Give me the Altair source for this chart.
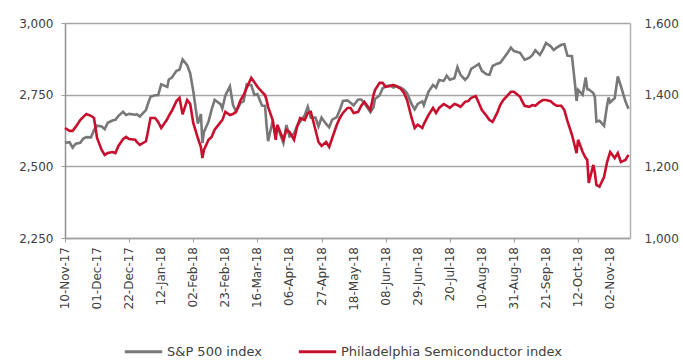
import altair as alt
import pandas as pd

# Trading dates sampled through the year, with closing levels of each index
dates = [
    "2017-11-10", "2017-11-13", "2017-11-15", "2017-11-17", "2017-11-20", "2017-11-22", "2017-11-24",
    "2017-11-27", "2017-11-29", "2017-12-01", "2017-12-04", "2017-12-06", "2017-12-08", "2017-12-11",
    "2017-12-13", "2017-12-15", "2017-12-18", "2017-12-20", "2017-12-22", "2017-12-26", "2017-12-27",
    "2017-12-29", "2018-01-02", "2018-01-03", "2018-01-05", "2018-01-08", "2018-01-10", "2018-01-12",
    "2018-01-16", "2018-01-17", "2018-01-19", "2018-01-22", "2018-01-24", "2018-01-26", "2018-01-29",
    "2018-01-31", "2018-02-02", "2018-02-05", "2018-02-07", "2018-02-08", "2018-02-09", "2018-02-12",
    "2018-02-14", "2018-02-16", "2018-02-20", "2018-02-21", "2018-02-23", "2018-02-26", "2018-02-28",
    "2018-03-02", "2018-03-05", "2018-03-07", "2018-03-09", "2018-03-12", "2018-03-14", "2018-03-16",
    "2018-03-19", "2018-03-21", "2018-03-22", "2018-03-23", "2018-03-26", "2018-03-28", "2018-03-29",
    "2018-04-02", "2018-04-04", "2018-04-06", "2018-04-09", "2018-04-11", "2018-04-13", "2018-04-16",
    "2018-04-18", "2018-04-20", "2018-04-23", "2018-04-25", "2018-04-27", "2018-04-30", "2018-05-02",
    "2018-05-04", "2018-05-07", "2018-05-09", "2018-05-11", "2018-05-14", "2018-05-16", "2018-05-18",
    "2018-05-21", "2018-05-23", "2018-05-25", "2018-05-29", "2018-05-31", "2018-06-01", "2018-06-04",
    "2018-06-06", "2018-06-08", "2018-06-11", "2018-06-13", "2018-06-15", "2018-06-18", "2018-06-20",
    "2018-06-22", "2018-06-25", "2018-06-27", "2018-06-29", "2018-07-02", "2018-07-03", "2018-07-06",
    "2018-07-09", "2018-07-11", "2018-07-13", "2018-07-16", "2018-07-18", "2018-07-20", "2018-07-23",
    "2018-07-25", "2018-07-27", "2018-07-30", "2018-08-01", "2018-08-03", "2018-08-06", "2018-08-08",
    "2018-08-10", "2018-08-13", "2018-08-15", "2018-08-17", "2018-08-20", "2018-08-22", "2018-08-24",
    "2018-08-27", "2018-08-29", "2018-08-31", "2018-09-04", "2018-09-05", "2018-09-07", "2018-09-10",
    "2018-09-12", "2018-09-14", "2018-09-17", "2018-09-19", "2018-09-21", "2018-09-24", "2018-09-26",
    "2018-09-28", "2018-10-01", "2018-10-03", "2018-10-05", "2018-10-08", "2018-10-10", "2018-10-11",
    "2018-10-12", "2018-10-15", "2018-10-17", "2018-10-18", "2018-10-19", "2018-10-22", "2018-10-23",
    "2018-10-24", "2018-10-26", "2018-10-29", "2018-10-31", "2018-11-01", "2018-11-02", "2018-11-05",
    "2018-11-07", "2018-11-09", "2018-11-12", "2018-11-14",
]

spx = [
    2582, 2584, 2565, 2579, 2582, 2597, 2602,
    2601, 2626, 2642, 2639, 2630, 2652, 2660,
    2662, 2676, 2690, 2679, 2683, 2680, 2682,
    2674, 2696, 2713, 2743, 2748, 2748, 2786,
    2777, 2803, 2810, 2833, 2837, 2873, 2853,
    2824, 2762, 2649, 2682, 2581, 2620, 2656,
    2698, 2732, 2716, 2701, 2747, 2779, 2714,
    2691, 2721, 2727, 2786, 2783, 2749, 2752,
    2712, 2711, 2643, 2588, 2658, 2605, 2641,
    2582, 2644, 2604, 2614, 2642, 2656, 2678,
    2708, 2670, 2670, 2639, 2670, 2648, 2636,
    2663, 2672, 2697, 2728, 2730, 2722, 2713,
    2733, 2733, 2721, 2689, 2705, 2735, 2747,
    2772, 2779, 2782, 2775, 2780, 2774, 2767,
    2755, 2717, 2699, 2718, 2727, 2713, 2760,
    2784, 2774, 2801, 2798, 2816, 2802, 2807,
    2846, 2819, 2802, 2813, 2840, 2850, 2857,
    2833, 2821, 2819, 2850, 2858, 2861, 2875,
    2897, 2914, 2902, 2896, 2888, 2872, 2878,
    2888, 2905, 2889, 2907, 2930, 2919, 2906,
    2914, 2924, 2926, 2886, 2884, 2786, 2728,
    2767, 2750, 2810, 2769, 2768, 2756, 2741,
    2656, 2659, 2641, 2712, 2740, 2723, 2738,
    2814, 2781, 2727, 2701,
]

sox = [
    1307, 1299, 1299, 1310, 1329, 1338, 1346,
    1341, 1335, 1279, 1246, 1232, 1237, 1240,
    1237, 1257, 1276, 1282, 1276, 1274, 1268,
    1260, 1270, 1290, 1335, 1335, 1324, 1307,
    1332, 1341, 1355, 1382, 1391, 1345, 1385,
    1374, 1321, 1279, 1254, 1223, 1246, 1274,
    1282, 1302, 1324, 1329, 1352, 1343, 1346,
    1352, 1385, 1399, 1419, 1447, 1435, 1422,
    1408, 1399, 1385, 1366, 1329, 1274, 1316,
    1274, 1302, 1296, 1274, 1310, 1335, 1329,
    1349, 1352, 1302, 1268, 1257, 1268, 1254,
    1279, 1316, 1335, 1349, 1363, 1363, 1349,
    1352, 1369, 1380, 1357, 1399, 1413, 1433,
    1433, 1422, 1424, 1427, 1424, 1416, 1405,
    1385, 1335, 1307, 1316, 1307, 1318, 1343,
    1363, 1349, 1363, 1374, 1369, 1363, 1374,
    1371, 1366, 1380, 1382, 1391, 1396, 1377,
    1357, 1341, 1329, 1324, 1349, 1371, 1385,
    1399, 1408, 1408, 1394, 1385, 1369, 1366,
    1371, 1369, 1380, 1385, 1385, 1382, 1374,
    1369, 1369, 1357, 1327, 1288, 1254, 1237,
    1274, 1240, 1223, 1218, 1154, 1204, 1182,
    1148, 1143, 1170, 1212, 1226, 1240, 1223,
    1237, 1212, 1218, 1232,
]

series_names = ["S&P 500 index", "Philadelphia Semiconductor index"]
series_colors = ["#787878", "#c8102e"]

tick_dates = [
    "2017-11-10", "2017-12-01", "2017-12-22", "2018-01-12", "2018-02-02", "2018-02-23",
    "2018-03-16", "2018-04-06", "2018-04-27", "2018-05-18", "2018-06-08", "2018-06-29",
    "2018-07-20", "2018-08-10", "2018-08-31", "2018-09-21", "2018-10-12", "2018-11-02",
]
tick_labels = [
    "10-Nov-17", "01-Dec-17", "22-Dec-17", "12-Jan-18", "02-Feb-18", "23-Feb-18",
    "16-Mar-18", "06-Apr-18", "27-Apr-18", "18-May-18", "08-Jun-18", "29-Jun-18",
    "20-Jul-18", "10-Aug-18", "31-Aug-18", "21-Sep-18", "12-Oct-18", "02-Nov-18",
]
date_range = ["2017-11-10", "2018-11-15"]
left_ticks = [2250, 2500, 2750, 3000]
right_ticks = [1000, 1200, 1400, 1600]

FONT = "DejaVu Sans"
PLOT_H = 215


def ms(d):
    return int(pd.Timestamp(d, tz="UTC").value // 10**6)


df_spx = pd.DataFrame({"date": dates, "value": spx, "series": series_names[0]})
df_sox = pd.DataFrame({"date": dates, "value": sox, "series": series_names[1]})
df_ticks = pd.DataFrame({"date": tick_dates, "label": tick_labels})

x_scale = alt.Scale(type="utc", domain=[ms(d) for d in date_range])

# Time axis: ticks and baseline only; the date labels are drawn as vertical text
x_enc = alt.X(
    "date:T",
    scale=x_scale,
    axis=alt.Axis(
        values=[ms(d) for d in tick_dates],
        labels=False,
        tickSize=4,
        tickColor="#a0a0a0",
        domainColor="#a0a0a0",
        domainWidth=1.5,
        grid=False,
        title=None,
    ),
)

color_enc = alt.Color(
    "series:N",
    scale=alt.Scale(domain=series_names, range=series_colors),
    legend=alt.Legend(
        title=None,
        orient="none",
        direction="horizontal",
        legendX=58,
        legendY=308,
        symbolType="stroke",
        symbolSize=1400,
        symbolStrokeWidth=3,
        labelFont=FONT,
        labelFontSize=13,
        labelColor="#404040",
        labelOffset=3,
        labelLimit=400,
        columnPadding=30,
    ),
)

spx_line = alt.Chart(df_spx).mark_line(strokeWidth=2.6).encode(
    x=x_enc,
    y=alt.Y(
        "value:Q",
        scale=alt.Scale(domain=[2250, 3000], nice=False, zero=False),
        axis=alt.Axis(
            values=left_ticks,
            format=",.0f",
            orient="left",
            labelPadding=8,
            tickSize=4,
            tickColor="#a0a0a0",
            domainColor="#909090",
            domainWidth=1.5,
            grid=True,
            gridColor="#a6a6a6",
            gridWidth=1.5,
            title=None,
        ),
    ),
    color=color_enc,
)

sox_line = alt.Chart(df_sox).mark_line(strokeWidth=2.6).encode(
    x=x_enc,
    y=alt.Y(
        "value:Q",
        scale=alt.Scale(domain=[1000, 1600], nice=False, zero=False),
        axis=alt.Axis(
            values=right_ticks,
            format=",.0f",
            orient="right",
            labelPadding=14,
            ticks=False,
            domainColor="#b0b0b0",
            domainWidth=1.5,
            grid=False,
            title=None,
        ),
    ),
    color=color_enc,
)

date_labels = alt.Chart(df_ticks).mark_text(
    angle=270,
    align="right",
    baseline="middle",
    font=FONT,
    fontSize=12,
    color="#404040",
).encode(
    x=alt.X("date:T", scale=x_scale),
    y=alt.value(PLOT_H + 9),
    text=alt.Text("label:N"),
)

chart = (
    alt.layer(spx_line, sox_line, date_labels)
    .resolve_scale(y="independent")
    .properties(
        width=565,
        height=PLOT_H,
        autosize="none",
        padding={"left": 65, "top": 23, "right": 53, "bottom": 124},
        background="white",
    )
    .configure_view(stroke=None)
    .configure_axis(
        labelFont=FONT,
        labelFontSize=12,
        labelColor="#404040",
        labelFlush=False,
    )
)

chart.save("out.html", embed_options={"renderer": "svg", "actions": False})
